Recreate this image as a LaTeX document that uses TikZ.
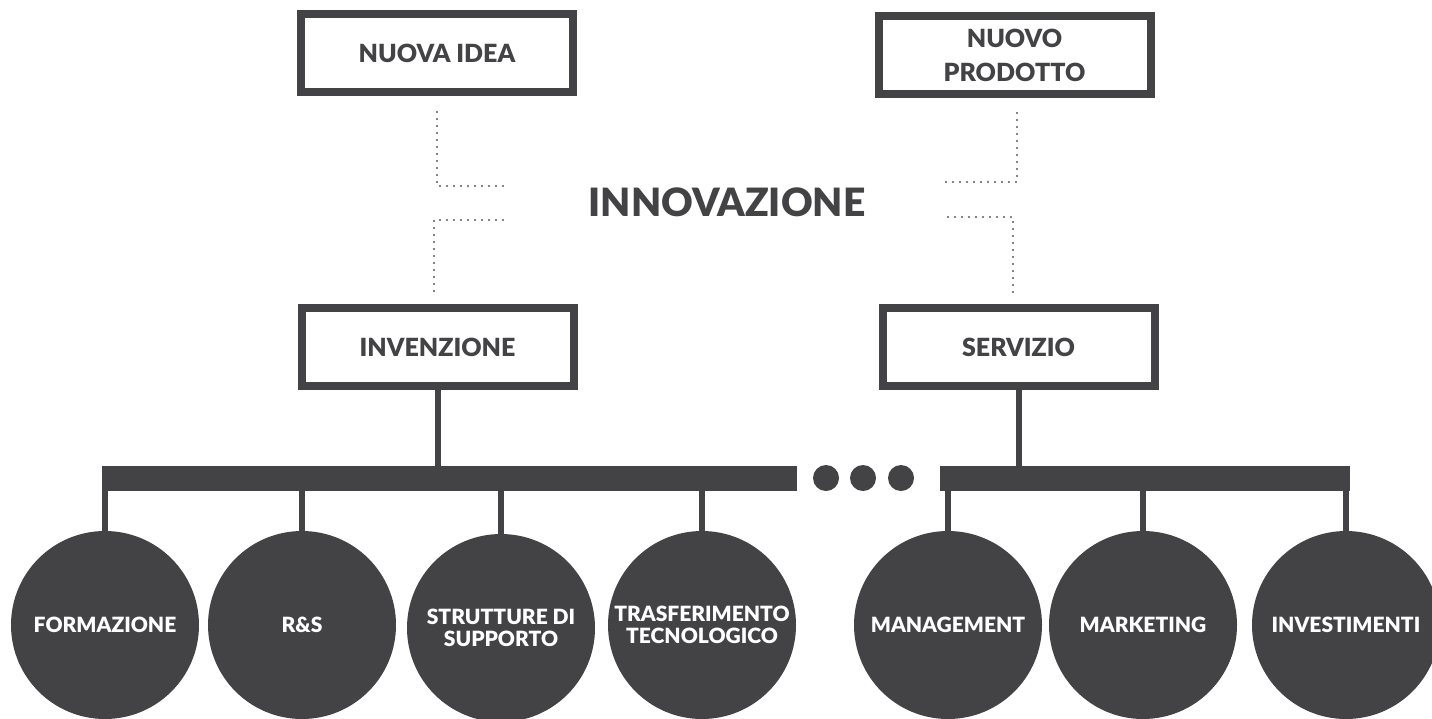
\documentclass[tikz,border=0pt]{standalone}
\usepackage{fontspec}
\setmainfont{Lato}[BoldFont={Lato Black}]
\definecolor{ink}{RGB}{67,67,69}
\definecolor{dotc}{RGB}{90,90,92}
\begin{document}
\begin{tikzpicture}[x=1pt,y=-1pt]
\tikzset{
  box/.style={draw=ink, line width=8pt, minimum width=272pt, minimum height=78pt,
    text=ink, font=\fontsize{25}{34}\selectfont\bfseries, align=center, inner sep=0pt},
  ball/.style={circle, fill=ink, minimum size=188pt, inner sep=0pt, text=white,
    font=\fontsize{21}{22}\selectfont\bfseries, align=center},
  bar/.style={rectangle, fill=ink, minimum height=25pt, inner sep=0pt},
  blob/.style={circle, fill=ink, minimum size=26pt, inner sep=0pt},
  stem/.style={draw=ink, line width=6pt},
  dotline/.style={draw=dotc, line width=2.2pt, line cap=round, dash pattern=on 0pt off 7pt}
}
\fill[white] (0,0) rectangle (1432,718);
\useasboundingbox (0,0) rectangle (1432,718);

% boxes
\node[box] (idea) at (437,53) {NUOVA IDEA};
\node[box] (prod) at (1014.5,55) {NUOVO\\PRODOTTO};
\node[box] (inv) at (437.5,347) {INVENZIONE};
\node[box] (serv) at (1018.5,347) {SERVIZIO};

\node[text=ink, font=\fontsize{39}{39}\selectfont\bfseries] (innov) at (727,202) {INNOVAZIONE};

% dotted connectors
\coordinate (ia) at (437,112);
\coordinate (ib) at (508,186);
\coordinate (ja) at (434,291);
\coordinate (jb) at (510,220);
\coordinate (ka) at (1017,113);
\coordinate (kb) at (943,182);
\coordinate (la) at (1013,292);
\coordinate (lb) at (943,217);
\draw[dotline] (ia) |- (ib);
\draw[dotline] (ja) |- (jb);
\draw[dotline] (ka) |- (kb);
\draw[dotline] (la) |- (lb);

% bars and dots
\node[bar, minimum width=695pt] (barL) at (449.5,478.5) {};
\node[bar, minimum width=410pt] (barR) at (1145,478.5) {};
\node[blob] (d1) at (826,478) {};
\node[blob] (d2) at (863,478) {};
\node[blob] (d3) at (901,478) {};

% circles
\node[ball] (c1) at (105,625) {FORMAZIONE};
\node[ball] (c2) at (302,625) {R\&S};
\node[ball] (c3) at (501,628) {STRUTTURE DI\\SUPPORTO};
\node[ball] (c4) at (702,625) {TRASFERIMENTO\\TECNOLOGICO};
\node[ball] (c5) at (948,625) {MANAGEMENT};
\node[ball] (c6) at (1143,625) {MARKETING};
\node[ball] (c7) at (1346,625) {INVESTIMENTI};

% stems
\draw[stem] (inv.south) -- (inv.south |- barL.north);
\draw[stem] (serv.south) -- (serv.south |- barR.north);
\foreach \c in {c1,c2,c3,c4} \draw[stem] (\c.north) -- (\c.north |- barL.south);
\foreach \c in {c5,c6,c7} \draw[stem] (\c.north) -- (\c.north |- barR.south);
\end{tikzpicture}
\end{document}
